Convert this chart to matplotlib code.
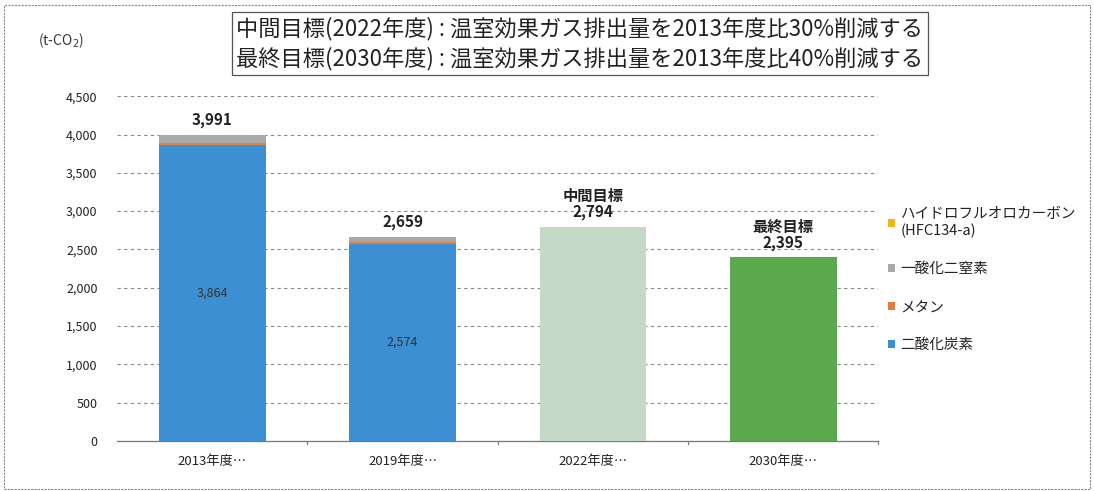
import matplotlib
matplotlib.use("Agg")
import matplotlib.pyplot as plt
from matplotlib.patches import Rectangle
import numpy as np

plt.rcParams['font.family'] = ['Noto Sans CJK JP', 'DejaVu Sans']

categories = ["2013年度…", "2019年度…", "2022年度…", "2030年度…"]
co2 = [3864, 2574, 0, 0]
methane = [30, 20, 0, 0]
n2o = [95, 63, 0, 0]
hfc = [2, 2, 0, 0]
totals = [3991, 2659, 2794, 2395]
targets = [0, 0, 2794, 2395]
inner_labels = ["3,864", "2,574", "", ""]
top_labels = ["3,991", "2,659", "中間目標\n2,794", "最終目標\n2,395"]
legend_labels = ["ハイドロフルオロカーボン\n(HFC134-a)", "一酸化二窒素", "メタン", "二酸化炭素"]
yticks = [0, 500, 1000, 1500, 2000, 2500, 3000, 3500, 4000, 4500]

c_co2 = "#3d8fd4"
c_met = "#e0803c"
c_n2o = "#a9a9a9"
c_hfc = "#efb515"
target_colors = ["#c4d9c6", "#5ba84d"]

fig = plt.figure(figsize=(10.94, 4.91), dpi=100)
ax = fig.add_axes([0.107, 0.102, 0.696, 0.702])

x = np.arange(len(categories))
w = 0.56
b1 = ax.bar(x[:2], co2[:2], w, color=c_co2, zorder=3)
bot = np.array(co2[:2])
b2 = ax.bar(x[:2], methane[:2], w, bottom=bot, color=c_met, zorder=3)
bot = bot + np.array(methane[:2])
b3 = ax.bar(x[:2], n2o[:2], w, bottom=bot, color=c_n2o, zorder=3)
bot = bot + np.array(n2o[:2])
b4 = ax.bar(x[:2], hfc[:2], w, bottom=bot, color=c_hfc, zorder=3)
ax.bar(x[2:], targets[2:], w, color=target_colors, zorder=3)

for i in range(len(categories)):
    if inner_labels[i]:
        ax.text(x[i], co2[i] / 2, inner_labels[i], ha="center", va="center",
                fontsize=9, color="#333333", zorder=4)
    ax.text(x[i], totals[i] + 90, top_labels[i], ha="center", va="bottom",
            fontsize=11, fontweight="bold", color="#222222", linespacing=0.95, zorder=4)

ax.set_xlim(-0.5, 3.5)
ax.set_ylim(0, 4500)
ax.set_yticks(yticks)
ax.set_yticklabels([f"{v:,}" for v in yticks], fontsize=9, color="#222222")
ax.set_xticks(x)
ax.set_xticklabels(categories, fontsize=9.5, color="#222222")
ax.tick_params(axis="y", length=0, pad=14)
ax.tick_params(axis="x", length=0, pad=10)
for t in [0.5, 1.5, 2.5, 3.5]:
    ax.plot([t, t], [0, -40], color="#777777", lw=0.8, clip_on=False, zorder=2)
ax.grid(axis="y", linestyle=(0, (3, 3)), color="#888888", lw=0.8, zorder=0)
for s in ["top", "right", "left"]:
    ax.spines[s].set_visible(False)
ax.spines["bottom"].set_color("#777777")
ax.spines["bottom"].set_linewidth(0.9)

handles = [b4, b3, b2, b1]
leg = ax.legend(handles, legend_labels, loc="upper left", bbox_to_anchor=(1.005, 0.695),
                frameon=False, fontsize=10.5, handlelength=0.5, handleheight=0.5,
                handletextpad=0.35, labelspacing=1.65, borderaxespad=0)
for t in leg.get_texts():
    t.set_color("#222222")

fig.text(0.035, 0.918, "(t-CO$_2$)", fontsize=10, color="#333333", ha="left", va="center")

fig.text(0.53, 0.911, "中間目標(2022年度) : 温室効果ガス排出量を2013年度比30%削減する\n"
         "最終目標(2030年度) : 温室効果ガス排出量を2013年度比40%削減する",
         ha="center", va="center", fontsize=16, color="#222222", linespacing=1.35,
         bbox=dict(boxstyle="square,pad=0.2", fc="white", ec="#555555", lw=0.9))

fig.patches.append(Rectangle((0.004, 0.004), 0.992, 0.985, transform=fig.transFigure,
                             fill=False, ec="#888888", lw=0.8, ls=(0, (2, 1))))

fig.savefig("out.png", dpi=100)
